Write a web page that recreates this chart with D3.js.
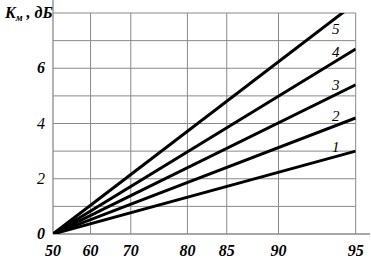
<!DOCTYPE html>
<html>
<head>
<meta charset="utf-8">
<script src="https://cdn.jsdelivr.net/npm/d3@7"></script>
<style>
  body { margin: 0; background: #fff; }
</style>
</head>
<body>
<div id="chart"></div>
<script>
// x axis is not uniform in the source: tick values and their relative place along the axis
const xTicks = [50, 60, 70, 80, 85, 90, 95];
const xStops = [0, 0.124, 0.257, 0.444, 0.574, 0.745, 1];
const yTicks = [0, 2, 4, 6];
const curveNames = ["1", "2", "3", "4", "5"];
const kmStart = [0, 0, 0, 0, 0];        // K_м at 50
const kmEnd = [3.0, 4.2, 5.4, 6.7, 8.37]; // K_м at 95 (curve 5 leaves the frame)

const width = 371,
      height = 260,
      margin = ({ top: 13, right: 15, bottom: 26, left: 53 });
const plotW = 302.7;
const serif = "'Liberation Serif', 'Times New Roman', Times, serif";

let svg = d3.select("#chart")
    .append("svg")
    .attr("width", width)
    .attr("height", height)
    .attr("font-family", serif);

let x = d3.scaleLinear()
    .domain(xTicks)
    .range(xStops.map(f => margin.left + f * plotW));

let y = d3.scaleLinear()
    .domain([0, 8])
    .range([height - margin.bottom, margin.top]);

const grid = "#8a8a8a";

// horizontal grid
svg.append("g")
    .selectAll("line")
    .data(d3.range(1, 9))
    .join("line")
    .attr("x1", x(50)).attr("x2", x(95))
    .attr("y1", d => y(d)).attr("y2", d => y(d))
    .attr("stroke", grid).attr("stroke-width", 1);

// vertical grid
svg.append("g")
    .selectAll("line")
    .data(xTicks.slice(1))
    .join("line")
    .attr("x1", d => x(d)).attr("x2", d => x(d))
    .attr("y1", y(8)).attr("y2", y(0))
    .attr("stroke", grid).attr("stroke-width", 1);

// axes lines
svg.append("line")
    .attr("x1", x(50)).attr("x2", width - 1)
    .attr("y1", y(0)).attr("y2", y(0))
    .attr("stroke", grid).attr("stroke-width", 1.3);
svg.append("line")
    .attr("x1", x(50)).attr("x2", x(50))
    .attr("y1", 0).attr("y2", y(0))
    .attr("stroke", grid).attr("stroke-width", 1.3);

// x tick labels
svg.append("g")
    .selectAll("text")
    .data(xTicks)
    .join("text")
    .attr("x", d => x(d))
    .attr("y", 256)
    .attr("text-anchor", "middle")
    .attr("font-family", serif)
    .attr("font-size", 16)
    .attr("font-weight", "bold")
    .attr("font-style", "italic")
    .text(d => d);

// y tick labels
svg.append("g")
    .selectAll("text")
    .data(yTicks)
    .join("text")
    .attr("x", 45)
    .attr("y", d => y(d) + 5)
    .attr("text-anchor", "end")
    .attr("font-family", serif)
    .attr("font-size", 16)
    .attr("font-weight", d => (d == 2 || d == 4) ? "normal" : "bold")
    .attr("font-style", "italic")
    .text(d => d);

// axis title K_м , дБ
let title = svg.append("text")
    .attr("x", 5)
    .attr("y", 18)
    .attr("font-family", serif)
    .attr("font-size", 16)
    .attr("font-weight", "bold")
    .attr("font-style", "italic");
title.append("tspan").text("K");
title.append("tspan").attr("dy", 3).attr("font-size", 10).text("м");
title.append("tspan").attr("dy", -3).text(" , дБ");

// curves
svg.append("clipPath")
    .attr("id", "plot")
    .append("rect")
    .attr("x", x(50)).attr("y", y(8))
    .attr("width", x(95) - x(50)).attr("height", y(0) - y(8));

const curves = curveNames.map((name, i) => ({
    name: name,
    pts: [{ x: 50, v: kmStart[i] }, { x: 95, v: kmEnd[i] }]
}));

let line = d3.line()
    .x(d => x(d.x))
    .y(d => y(d.v));

svg.append("g")
    .attr("clip-path", "url(#plot)")
    .selectAll("path")
    .data(curves)
    .join("path")
    .attr("d", d => line(d.pts))
    .attr("fill", "none")
    .attr("stroke", "#000")
    .attr("stroke-width", 3);

// curve numbers: 1-4 sit above their line, 5 sits under its line
const labelX = 93.7;
svg.append("g")
    .selectAll("text")
    .data(curves)
    .join("text")
    .attr("x", x(labelX))
    .attr("y", d => {
        const v = d.pts[0].v + (d.pts[1].v - d.pts[0].v) * (x(labelX) - x(50)) / (x(95) - x(50));
        return d.name === "5" ? y(v) + 16 : y(v) - 4.5;
    })
    .attr("text-anchor", "middle")
    .attr("font-family", serif)
    .attr("font-size", 15)
    .attr("font-style", "italic")
    .text(d => d.name);
</script>
</body>
</html>
